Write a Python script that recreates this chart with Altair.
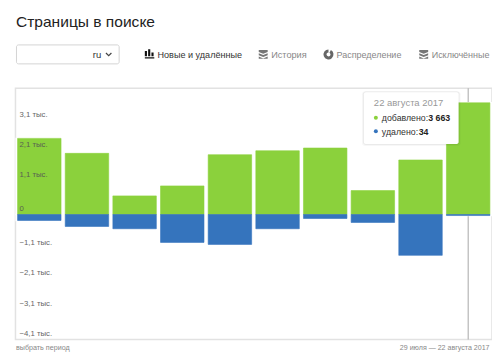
import altair as alt
import pandas as pd

dates = ["29.07", "31.07", "03.08", "06.08", "08.08", "11.08", "13.08", "16.08", "19.08", "22.08"]
added = [2497, 2006, 611, 938, 1961, 2091, 2180, 784, 1788, 3663]
removed = [196, 392, 467, 915, 980, 467, 131, 261, 1340, 34]
tick_values = [3100, 2100, 1100, 0, -1100, -2100, -3100, -4100]
tick_labels = ["3,1 тыс.", "2,1 тыс.", "1,1 тыс.", "0", "−1,1 тыс.", "−2,1 тыс.", "−3,1 тыс.", "−4,1 тыс."]

GREEN = "#8bd13c"
BLUE = "#3574bd"
FONT = "Liberation Sans"
X0, Y0 = 15.5, 88

rows = pd.DataFrame(
    {"day": dates * 2,
     "kind": ["добавлено"] * 10 + ["удалено"] * 10,
     "value": added + [-v for v in removed]}
)
ticks = pd.DataFrame({"tick": tick_values, "label": tick_labels})
one = pd.DataFrame({"a": [0]})

y_scale = alt.Scale(domain=[-4100, 4140], nice=False, zero=False)
x_scale = alt.Scale(paddingInner=0, paddingOuter=0)
x_enc = alt.X("day:N", sort=dates, scale=x_scale, title=None,
              axis=alt.Axis(labels=False, ticks=False, domain=False, grid=True,
                            gridColor="#e8e8e8", gridWidth=1, bandPosition=0.5))
x_plain = alt.X("day:N", sort=dates, scale=x_scale, title=None, axis=None)
y_enc = alt.Y("value:Q", scale=y_scale, stack=None, title=None,
              axis=alt.Axis(values=tick_values, labels=False, ticks=False, domain=False, grid=True,
                            gridColor="#e8e8e8", gridWidth=1))
y_plain = alt.Y("value:Q", scale=y_scale, stack=None, title=None, axis=None)
color_scale = alt.Scale(domain=["добавлено", "удалено"], range=[GREEN, BLUE])


def text(s, x, y, size=10, color="#444", weight="normal", align="left"):
    return alt.Chart(one).mark_text(text=s, font=FONT, fontSize=size, color=color, fontWeight=weight,
                                    align=align, baseline="alphabetic").encode(
        x=alt.value(x - X0), y=alt.value(y - Y0))


def box(x1, y1, x2, y2, **kw):
    return alt.Chart(one).mark_rect(**kw).encode(
        x=alt.value(x1 - X0), x2=alt.value(x2 - X0), y=alt.value(y1 - Y0), y2=alt.value(y2 - Y0))


def glyph(path, x, y, size, color, filled=True, **kw):
    return alt.Chart(one).mark_point(shape=path, size=size, filled=filled, color=color, opacity=1, **kw).encode(
        x=alt.value(x - X0), y=alt.value(y - Y0))


grid = alt.Chart(rows).mark_bar(opacity=0).encode(x=x_enc, y=y_enc)
hover = alt.Chart(pd.DataFrame({"day": ["22.08"]})).mark_rule(color="#a8a8a8", strokeWidth=1).encode(x=x_plain)
halo = alt.Chart(rows).mark_bar(size=46.5, color="white", stroke="white", strokeWidth=1.5).encode(x=x_plain, y=y_plain)
bars = alt.Chart(rows).mark_bar(size=43.6, strokeWidth=0.6).encode(
    x=x_plain, y=y_plain,
    color=alt.Color("kind:N", legend=None, scale=color_scale),
    stroke=alt.Stroke("kind:N", legend=None, scale=color_scale))
labels = alt.Chart(ticks).mark_text(font=FONT, fontSize=7.8, color="#555", opacity=0.9, align="left",
                                    baseline="middle", dy=-5.5).encode(
    x=alt.value(4), y=alt.Y("tick:Q", scale=y_scale, title=None, axis=None), text="label:N")

bars_icon = "M-1,1V.7H1V1ZM-1,.5V-.6H-.55V.5ZM-.3,.5V-1H.15V.5ZM.4,.5V-.3H.85V.5Z"
stack_icon = ("M-1,-1H1V-.55L0,-.15L-1,-.55Z"
              "M-1,-.25L0,.15L1,-.25V.2L0,.6L-1,.2Z"
              "M-1,.5L0,.9L1,.5V1H-1Z")
chevron = "M-1,-.5L0,.5L1,-.5"

chrome = [
    text("Страницы в поиске", 16, 27, size=15.6, color="#222"),
    box(16.5, 44.5, 119.5, 63.5, fill="white", stroke="#d4d4d4", strokeWidth=1, cornerRadius=2),
    text("ru", 93, 58, size=9.5, color="#333"),
    glyph(chevron, 109, 54, 30, "#444", filled=False, strokeWidth=1.2),
    glyph(bars_icon, 150, 53.5, 90, "#111"),
    text("Новые и удалённые", 158, 57.5, size=9.1, color="#333"),
    glyph(stack_icon, 264, 54, 80, "#777"),
    text("История", 272, 57.5, size=9.2, color="#888"),
    alt.Chart(one).mark_arc(radius=5, innerRadius=2, theta=0.5, theta2=6.28, color="#666").encode(
        x=alt.value(329.5 - X0), y=alt.value(54 - Y0)),
    text("Распределение", 337.5, 57.5, size=9, color="#888"),
    glyph(stack_icon, 425, 54, 80, "#777"),
    text("Исключённые", 433, 57.5, size=9, color="#888"),
    text("выбрать период", 16, 350.5, size=7.2, color="#888"),
    text("29 июля — 22 августа 2017", 491, 350.5, size=7.1, color="#888", align="right"),
]

tooltip = [
    box(363, 91, 462, 146, fill="#000", opacity=0.03, cornerRadius=3),
    box(364, 91, 461, 145, fill="#000", opacity=0.05, cornerRadius=3),
    box(365, 92, 460, 144, fill="white", cornerRadius=2),
    text("22 августа 2017", 375, 106, size=9.5, color="#999"),
    alt.Chart(one).mark_point(filled=True, shape="circle", size=16, color=GREEN, opacity=1).encode(
        x=alt.value(377 - X0), y=alt.value(117.5 - Y0)),
    text("добавлено:", 383, 121, size=8.8, color="#333"),
    text("3 663", 429.5, 121, size=8.8, color="#222", weight="bold"),
    alt.Chart(one).mark_point(filled=True, shape="circle", size=16, color=BLUE, opacity=1).encode(
        x=alt.value(377 - X0), y=alt.value(131 - Y0)),
    text("удалено:", 383, 134.5, size=8.8, color="#333"),
    text("34", 420, 134.5, size=8.8, color="#222", weight="bold"),
]

chart = alt.layer(grid, hover, halo, bars, labels, *chrome, *tooltip).resolve_scale(
    x="shared", y="shared"
).properties(
    width=478, height=252, autosize="none",
    padding={"left": 7.5, "top": 80, "right": 0, "bottom": 12},
    background="white",
).configure_view(stroke="#e2e2e2", strokeWidth=1.5)

chart.save("out.html", embed_options={"renderer": "svg", "actions": False})
